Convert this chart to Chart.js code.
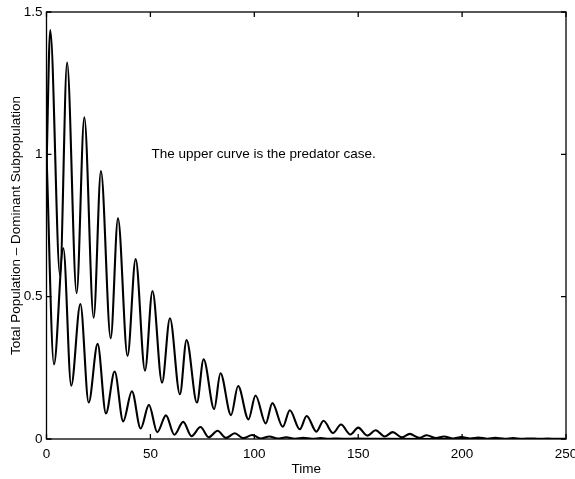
<!DOCTYPE html>
<html>
<head>
<meta charset="utf-8">
<script src="https://cdn.jsdelivr.net/npm/chart.js@4.4.1/dist/chart.umd.min.js"></script>
<style>
html, body { margin: 0; padding: 0; background: #fff; }
#wrap { width: 575px; height: 479px; }
</style>
</head>
<body>
<div id="wrap"><canvas id="popChart"></canvas></div>
<script>
// predator case (upper curve): peaks and troughs
const upperTime = [0, 1.8, 6.5, 9.9, 14.5, 18.2, 22.7, 26.2, 30.9, 34.4, 39.0, 42.9, 47.4, 51.0,
    55.6, 59.4, 64.2, 67.4, 72.4, 75.6, 80.7, 83.7, 88.8, 92.2, 97.2, 100.6, 105.5, 108.7,
    113.7, 117.1, 121.9, 125.2, 129.9, 133.3, 137.9, 141.7, 146.2, 150.0, 154.4, 158.4,
    162.7, 166.6, 171.0, 174.8, 179.3, 183.0, 187.5, 191.3, 195.7, 199.6, 204.0, 207.8,
    212.2, 216.0, 220.5, 224.5, 229.0, 232.8, 237.0, 241.0, 245.5, 250];
const upperValue = [0.95, 1.437, 0.576, 1.322, 0.512, 1.13, 0.426, 0.941, 0.354, 0.775, 0.292, 0.632, 0.24, 0.52,
    0.198, 0.424, 0.157, 0.348, 0.128, 0.28, 0.105, 0.231, 0.084, 0.186, 0.069, 0.153, 0.055, 0.126,
    0.043, 0.101, 0.034, 0.081, 0.026, 0.064, 0.021, 0.051, 0.016, 0.04, 0.012, 0.031,
    0.009, 0.024, 0.006, 0.018, 0.004, 0.013, 0.003, 0.009, 0.002, 0.007, 0.0015, 0.005,
    0.001, 0.004, 0.001, 0.003, 0.0008, 0.002, 0.0006, 0.0015, 0.0005, 0.001];

// no-predator case (lower curve)
const lowerTime = [0, 3.6, 8.1, 11.9, 16.3, 20.3, 24.6, 28.6, 32.8, 36.9, 41.1, 45.3, 49.3, 53.3,
    57.5, 61.5, 65.8, 69.8, 74.1, 78.1, 82.3, 86.4, 90.6, 94.7, 99.0, 103.0, 107.2, 111.3,
    115.4, 119.5, 123.7, 127.8, 132.0, 136.0, 140.3, 144.4, 148.5, 160, 200, 250];
const lowerValue = [1.0, 0.262, 0.67, 0.187, 0.474, 0.128, 0.334, 0.09, 0.237, 0.062, 0.168, 0.037, 0.12, 0.024,
    0.083, 0.015, 0.06, 0.01, 0.042, 0.006, 0.029, 0.004, 0.02, 0.003, 0.014, 0.002, 0.009, 0.0013,
    0.006, 0.0009, 0.004, 0.0006, 0.003, 0.0004, 0.002, 0.0003, 0.0013, 0.0003, 0.0001, 0];

const xTicks = [0, 50, 100, 150, 200, 250];
const yTicks = [0, 0.5, 1, 1.5];
const yTickLabels = ['0', '0.5', '1', '1.5'];
const xTitle = 'Time';
const yTitle = 'Total Population \u2013 Dominant Subpopulation';
const note = 'The upper curve is the predator case.';

const toPoints = (ts, vs) => ts.map((t, i) => ({ x: t, y: vs[i] }));
const FONT = 'Liberation Sans';

// MATLAB style box with inward ticks, plus the text note
const frame = {
    id: 'frame',
    afterDatasetsDraw(chart) {
        const { ctx, chartArea: a, scales: { x, y } } = chart;
        ctx.save();
        ctx.strokeStyle = '#000';
        ctx.lineWidth = 1.3;
        ctx.strokeRect(a.left, a.top, a.right - a.left, a.bottom - a.top);
        ctx.beginPath();
        xTicks.forEach(v => {
            const px = x.getPixelForValue(v);
            ctx.moveTo(px, a.bottom); ctx.lineTo(px, a.bottom - 5);
            ctx.moveTo(px, a.top); ctx.lineTo(px, a.top + 5);
        });
        yTicks.forEach(v => {
            const py = y.getPixelForValue(v);
            ctx.moveTo(a.left, py); ctx.lineTo(a.left + 5, py);
            ctx.moveTo(a.right, py); ctx.lineTo(a.right - 5, py);
        });
        ctx.stroke();
        ctx.fillStyle = '#000';
        ctx.font = '13.5px "' + FONT + '"';
        ctx.textAlign = 'left';
        ctx.textBaseline = 'middle';
        ctx.fillText(note, x.getPixelForValue(50.5), y.getPixelForValue(1.0));
        ctx.restore();
    }
};

new Chart(document.getElementById('popChart'), {
    type: 'line',
    data: {
        datasets: [{
            label: 'Predator',
            data: toPoints(upperTime, upperValue),
            borderColor: '#000',
            borderWidth: 2.1,
            pointRadius: 0,
            cubicInterpolationMode: 'monotone',
            fill: false
        }, {
            label: 'No predator',
            data: toPoints(lowerTime, lowerValue),
            borderColor: '#000',
            borderWidth: 2.1,
            pointRadius: 0,
            cubicInterpolationMode: 'monotone',
            fill: false
        }]
    },
    options: {
        responsive: true,
        maintainAspectRatio: false,
        animation: false,
        layout: { padding: { top: 12, right: 9, left: 0, bottom: 0 } },
        plugins: { legend: { display: false }, tooltip: { enabled: false } },
        scales: {
            x: {
                type: 'linear',
                min: 0,
                max: 250,
                afterFit: s => { s.height = 40; s.paddingLeft = 0; s.paddingRight = 0; },
                grid: { display: false, drawTicks: false },
                border: { display: false },
                ticks: { stepSize: 50, padding: 7, color: '#000', font: { family: FONT, size: 13.5 } },
                title: { display: true, text: xTitle, color: '#000', padding: 2, font: { family: FONT, size: 13.5 } }
            },
            y: {
                min: 0,
                max: 1.5,
                afterFit: s => { s.width = 46.5; s.paddingTop = 0; s.paddingBottom = 0; },
                grid: { display: false, drawTicks: false },
                border: { display: false },
                ticks: {
                    stepSize: 0.5, padding: 4, color: '#000', font: { family: FONT, size: 13.5 },
                    callback: v => {
                        const i = yTicks.indexOf(v);
                        return i >= 0 ? yTickLabels[i] : '';
                    }
                },
                title: { display: true, text: yTitle, color: '#000', padding: 8, font: { family: FONT, size: 13.5 } }
            }
        }
    },
    plugins: [frame]
});
</script>
</body>
</html>
